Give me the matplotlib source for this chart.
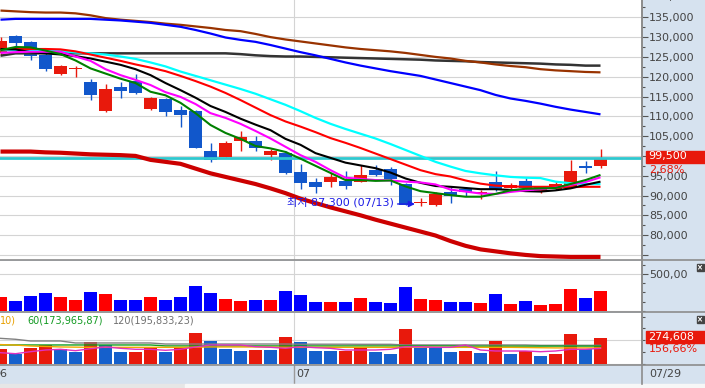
import numpy as np
import matplotlib.pyplot as plt
from matplotlib import font_manager, transforms
from matplotlib.patches import Rectangle
from matplotlib.lines import Line2D
from matplotlib.ticker import MultipleLocator, FuncFormatter, NullFormatter

# ---- price candles (one per trading day, last = 07/29) ----
opens = [126000, 130300, 128800, 125500, 120800, 122100, 118700, 111300, 117400, 118900,
         111800, 114400, 111600, 111300, 101200, 99700, 103800, 103800, 100200, 100700,
         95900, 93400, 93400, 93700, 93400, 96400, 96700, 92900, 88200, 87600,
         90900, 91600, 90700, 93400, 91900, 93700, 90900, 91600, 92400, 97500, 97500]
highs = [130000, 130500, 128900, 126000, 123000, 122800, 119400, 118200, 118700, 120700,
         114900, 114600, 112600, 111500, 103300, 103800, 106300, 105000, 101700, 101200,
         98000, 94400, 95700, 96200, 97700, 97700, 97200, 93100, 89400, 90900,
         92100, 92200, 91300, 96200, 93200, 94400, 92300, 93700, 99000, 98700, 101700]
lows = [125500, 127200, 124200, 121500, 120400, 119900, 114100, 111200, 114600, 115600,
        111700, 110100, 107300, 101900, 98500, 99600, 101200, 101200, 99000, 95500,
        91600, 90600, 92200, 91600, 93300, 95000, 92700, 87500, 87300, 87400,
        88100, 89900, 89000, 91100, 91700, 91700, 90700, 91400, 92300, 95700, 97000]
closes = [129000, 128500, 125200, 121900, 122700, 122150, 115400, 116900, 116400, 115900,
          114600, 111100, 110300, 102000, 99000, 103300, 104800, 102000, 101200, 95700,
          93200, 92200, 94700, 92400, 95200, 95200, 94200, 87600, 88300, 90400,
          89900, 90900, 91000, 91600, 92700, 91900, 92200, 92900, 96200, 96900, 99500]

# ---- moving-average style lines on the price panel ----
ma_green = [126700, 127500, 127400, 126600, 125700, 124100, 122100, 120800, 119500, 118400,
            116200, 115300, 113400, 110800, 107800, 105800, 104300, 102500, 101900, 101000,
            99300, 97500, 95700, 93900, 93900, 93700, 93800, 92300, 91100, 90600,
            90100, 89700, 89700, 90400, 91300, 91700, 91800, 91900, 92900, 93900, 95200]
ma_magenta = [126000, 126200, 126300, 126300, 126300, 125100, 124000, 121900, 120400, 119200,
              117900, 116100, 114900, 113100, 110800, 109600, 108100, 106300, 104400, 102300,
              100200, 98500, 96400, 94500, 94200, 93900, 93800, 93500, 93300, 92800,
              91500, 91000, 90500, 90400, 90900, 91300, 91600, 92000, 92700, 93400, 94600]
ma_black = [127000, 126900, 126200, 125900, 125600, 125200, 124600, 123800, 123000, 121900,
            120400, 118400, 116600, 114700, 112600, 111100, 109400, 107900, 106500, 104300,
            102800, 100700, 99500, 98300, 97600, 96900, 95800, 94300, 93200, 92400,
            92200, 91900, 91600, 91600, 91400, 91100, 91000, 91300, 91800, 92700, 93500]
ma_red = [126900, 127000, 127000, 127000, 126900, 126400, 125600, 124800, 124000, 123100,
          122300, 121400, 120200, 118900, 117500, 115900, 114100, 112200, 110300, 108700,
          107400, 106000, 104500, 103300, 102000, 100600, 99200, 97800, 96400, 95400,
          94800, 93800, 93000, 92500, 92300, 92200, 92200, 92200, 92100, 92200, 92200]
ma_cyan = [126700, 126700, 126700, 126600, 126500, 126100, 125900, 125600, 125100, 124500,
           123600, 122600, 121300, 120200, 119100, 118000, 116900, 115700, 114300, 112900,
           111300, 109600, 108100, 106800, 105600, 104400, 103000, 101500, 100000, 98500,
           97300, 96200, 95600, 95100, 94700, 94500, 94400, 93500, 93100, 92900, 92900]
ma_blue = [134400, 134600, 134600, 134600, 134600, 134600, 134600, 134400, 134200, 133900,
           133600, 133100, 132600, 131800, 130900, 129900, 129300, 128800, 128000, 127100,
           126200, 125400, 124500, 123600, 122800, 122100, 121400, 120800, 120200, 119300,
           118400, 117500, 116600, 115400, 114500, 113900, 113200, 112400, 111700, 111100, 110500]
ma_brown = [136700, 136500, 136300, 136200, 136200, 136000, 135500, 134800, 134400, 134100,
            133800, 133400, 133100, 132700, 132300, 131800, 131500, 130800, 130000, 129400,
            128900, 128400, 127900, 127400, 127000, 126700, 126400, 126000, 125500, 125000,
            124600, 124000, 123600, 123100, 122700, 122400, 121900, 121600, 121400, 121200, 121100]
ma_grey = [125300, 125900, 125900, 125900, 125900, 125900, 125900, 125900, 125900, 125900,
           125900, 125900, 125900, 125900, 125900, 125900, 125700, 125400, 125200, 125100,
           125100, 125000, 124900, 124800, 124700, 124600, 124500, 124400, 124300, 124100,
           124000, 123900, 123700, 123600, 123500, 123400, 123300, 123100, 123000, 122800, 122800]
band_low = [101100, 101100, 101100, 100900, 100800, 100600, 100400, 100300, 100200, 100000,
            99000, 98500, 98000, 96800, 95600, 94700, 93800, 92900, 91800, 90600,
            89200, 88100, 87000, 86000, 85000, 83900, 82900, 81900, 80900, 79900,
            78500, 77300, 76400, 75900, 75400, 75000, 74700, 74600, 74500, 74500, 74500]

# ---- volume panel ----
volume = [186600, 132000, 200000, 241000, 186600, 146000, 255000, 227500, 146000, 146000,
          186600, 146000, 186600, 336500, 241000, 159400, 132000, 146000, 146000, 268400,
          213900, 118500, 118500, 118500, 173000, 118500, 104900, 322900, 159400, 146000,
          118500, 118500, 104900, 227500, 91300, 132000, 77700, 91300, 295600, 173000, 268400]

# ---- lower indicator panel ----
amount = [158400, 105600, 169000, 200700, 158400, 126700, 232400, 200700, 126700, 126700,
          169000, 126700, 169000, 327400, 242900, 158400, 137300, 147900, 147900, 285200,
          232400, 137300, 137300, 137300, 169000, 126700, 105600, 369700, 169000, 169000,
          126700, 137300, 116200, 242900, 105600, 137300, 84500, 105600, 316900, 158400, 274608]
amount_up = [1, 0, 1, 1, 0, 0, 1, 0, 0, 1, 1, 0, 1, 1, 0, 0, 0, 1, 0, 1,
             0, 0, 0, 1, 1, 0, 0, 1, 0, 0, 0, 1, 0, 1, 0, 1, 0, 1, 1, 0, 1]
amt_magenta = [119400, 108800, 129900, 147900, 155300, 140500, 161600, 179600, 165800, 155300,
               155300, 144700, 155300, 179600, 200700, 200700, 200700, 182700, 176400, 165800,
               182700, 172200, 165800, 147900, 147900, 147900, 155300, 182000, 182000, 176000,
               176000, 200700, 147900, 137300, 137300, 137300, 129900, 137300, 155300, 155300, 165000]
amt_orange = [205000, 200000, 190000, 185000, 180000, 178000, 176000, 176000, 176000, 176000,
              176000, 176000, 176000, 178000, 180000, 180000, 180000, 180000, 178000, 176000,
              176000, 176000, 176000, 176000, 176000, 176000, 176000, 178000, 178000, 176000,
              176000, 176000, 176000, 176000, 176000, 174000, 172000, 170000, 170000, 170000, 170000]
amt_green = [201000] * 11 + [191000] * 20 + [189000] * 10
amt_grey = [271000, 261000, 243000, 243000, 243000, 222000, 222000, 222000, 222000, 222000,
            222000, 211000, 211000, 211000, 211000, 211000, 211000, 211000, 211000, 211000,
            209000, 209000, 209000, 209000, 208000, 208000, 208000, 201000, 201000, 201000,
            201000, 201000, 201000, 201000, 201000, 201000, 197000, 197000, 197000, 197000, 197000]

month_starts = [0, 20]
month_labels = ['06', '07']
last_date = '07/29'
low_date = '07/13'
change_pct = '2,68%'
amount_pct = '156,66%'
legend_parts = [('10)', '#e8a000', 0), ('60(173,965,87)', '#129a22', 27),
                ('120(195,833,23)', '#707070', 113)]

# ---- fonts ----
installed = {f.name for f in font_manager.fontManager.ttflist}
if 'Liberation Sans Narrow' in installed:
    NARROW, FS = 'Liberation Sans Narrow', 10
else:
    NARROW, FS = 'DejaVu Sans', 8
plt.rcParams['font.family'] = [NARROW, 'Noto Sans CJK KR', 'DejaVu Sans']

W, H = 705, 388
AXR = 642            # pixel x of the price axis line
STEP = 15.0          # pixels per candle
BODY = 13 / STEP
RED, BLUE = '#e8190c', '#1157cb'
PANEL_BG = '#d6e2ef'
GRID = '#d4d4d4'
TXT = '#444444'

idx = np.arange(len(closes))
o, h, l, c = map(np.array, (opens, highs, lows, closes))
up = c >= o
xlim = (-0.5 / STEP, (AXR - 0.5) / STEP)

fig = plt.figure(figsize=(W / 100, H / 100), dpi=100, facecolor=PANEL_BG)


def panel(top, bottom):
    ax = fig.add_axes([0, 1 - bottom / H, AXR / W, (bottom - top) / H])
    ax.set_facecolor('white')
    for s in ('top', 'left', 'bottom'):
        ax.spines[s].set_visible(False)
    ax.spines['right'].set_color('#8c8c8c')
    ax.spines['right'].set_linewidth(1.2)
    ax.set_xlim(*xlim)
    ax.set_xticks([])
    ax.yaxis.tick_right()
    ax.tick_params(axis='y', which='major', direction='out', length=4.3, width=0.8,
                   colors='#555555', labelcolor=TXT, labelsize=FS, pad=0.7)
    ax.tick_params(axis='y', which='minor', direction='out', length=2.2, width=0.8,
                   colors='#555555')
    return ax


bound = idx[month_starts[1]] - BODY / 2

# ================= price panel =================
main = panel(0, 259.5)
main.set_ylim(73844, 139368)
main.set_yticks(np.arange(75000, 140000, 5000))
main.yaxis.set_major_formatter(FuncFormatter(lambda v, p: '' if v < 80000 else f'{int(v):,}'))
main.yaxis.set_minor_locator(MultipleLocator(2500))
for p in np.arange(75000, 140001, 5000):
    main.axhline(p, color=GRID, lw=0.8, zorder=0)
main.axvline(bound, color=GRID, lw=0.8, zorder=0)

ccol = np.where(up, RED, BLUE)
main.vlines(idx, l, h, colors=ccol, lw=1.0, zorder=2)
diff = np.abs(c - o)
bh = np.maximum(diff, 260)
bb = np.where(diff < 260, (o + c) / 2 - 130, np.minimum(o, c))
main.bar(idx, bh, bottom=bb, width=BODY, color=ccol, lw=0, zorder=3)

main.axhline(closes[-1], color='#2ec8cf', lw=2.0, zorder=3.5)
main.plot(idx, band_low, color='#cc0000', lw=3.0, zorder=4, solid_capstyle='butt')
for vals, col, lw in [(ma_grey, '#333333', 1.8), (ma_brown, '#993300', 1.6),
                      (ma_blue, '#0000ff', 1.6), (ma_cyan, '#00ffff', 1.6),
                      (ma_red, '#ff0000', 1.5), (ma_black, '#000000', 1.5),
                      (ma_magenta, '#ff00ff', 1.5), (ma_green, '#008000', 1.5)]:
    main.plot(idx, vals, color=col, lw=lw, zorder=4, solid_capstyle='butt')

k_low = int(np.argmin(l))
low = int(l[k_low])
ann_blue = '#1c1ce6'
main.annotate(f'최저 {low:,} ({low_date})', xy=(k_low, low), xytext=(-19.1, 2.7),
              textcoords='offset points', ha='right', va='center', color=ann_blue,
              fontsize=FS, zorder=6)
tip = transforms.offset_copy(main.transData, fig=fig, x=-4.0, y=1.6, units='points')
main.annotate('', xy=(k_low, low), xycoords=tip, xytext=(-12.5, 0),
              textcoords='offset points',
              arrowprops=dict(arrowstyle='-|>', color=ann_blue, lw=1.0,
                              mutation_scale=9, shrinkA=0, shrinkB=0), zorder=6)

# ================= volume panel =================
vol = panel(260.5, 311.5)
vol.set_ylim(-10900, 683900)
vol.set_yticks([500000])
vol.yaxis.set_major_formatter(FuncFormatter(lambda v, p: '500,00'))
vol.yaxis.set_minor_locator(MultipleLocator(125000))
vol.yaxis.set_minor_formatter(NullFormatter())
vol.axhline(500000, color=GRID, lw=0.8, zorder=0)
vol.axhline(0, color=GRID, lw=0.8, zorder=0)
vol.axvline(bound, color=GRID, lw=0.8, zorder=0)
vol.bar(idx, volume, width=BODY, color=np.where(up, '#ff0000', '#0000ff'), lw=0, zorder=2)

# ================= indicator panel =================
ind = panel(312.5, 365)
ind.set_ylim(-10562, 543900)
ind.set_yticks([])
ind.yaxis.set_minor_locator(MultipleLocator(125000))
ind.yaxis.set_minor_formatter(NullFormatter())
ind.axhline(250000, color=GRID, lw=0.8, zorder=0)
ind.axhline(0, color=GRID, lw=0.8, zorder=0)
ind.axvline(bound, color=GRID, lw=0.8, zorder=0)
ind.bar(idx, amount, width=BODY, color=np.where(np.array(amount_up) == 1, RED, '#1560cc'),
        lw=0, zorder=2)
for vals, col in [(amt_grey, '#808080'), (amt_green, '#10a020'),
                  (amt_orange, '#f0a800'), (amt_magenta, '#e030c0')]:
    ind.plot(idx, vals, color=col, lw=1.0, zorder=3)
for txt, col, x in legend_parts:
    fig.text(x / W, 1 - 320.7 / H, txt, color=col, fontsize=FS * 0.88, va='center', ha='left')

# ================= date strip =================
date = fig.add_axes([0, 1 - 384 / H, AXR / W, 19 / H])
date.set_axis_off()
date.set_xlim(*xlim)
date.set_ylim(0, 1)
date.axvline(bound, color='#9a9a9a', lw=1.0)
for n, (k, lab) in enumerate(zip(month_starts, month_labels)):
    pad = 2 if n else -0.5          # the first label sits cut at the left edge
    date.text(idx[k] - BODY / 2 + pad / STEP, 0.55, lab, color=TXT, fontsize=FS,
              ha='left', va='center')
fig.text(649 / W, 1 - 373.5 / H, last_date, color=TXT, fontsize=FS, va='center')

# ---- frame lines, toolbar strip ----
for y in (259.5, 311.8, 365.2):
    fig.add_artist(Line2D([0, 1], [1 - y / H] * 2, color='#8c8c8c', lw=1.2,
                          transform=fig.transFigure))
fig.add_artist(Line2D([AXR / W] * 2, [1 - 384 / H, 1], color='#8c8c8c', lw=1.2,
                      transform=fig.transFigure))
fig.add_artist(Rectangle((0, 0), 185 / W, 4 / H, color='#e6e6e6', transform=fig.transFigure))
fig.add_artist(Rectangle((185 / W, 0), 1 - 185 / W, 4 / H, color='#f7f7f7',
                         transform=fig.transFigure))

# ---- right-side value boxes ----
def value_box(y_top, y_bot, text):
    fig.add_artist(Rectangle((646 / W, 1 - y_bot / H), (W - 646) / W, (y_bot - y_top) / H,
                             color=RED, transform=fig.transFigure, zorder=5))
    fig.text(648.5 / W, 1 - (y_top + y_bot) / 2 / H, text, color='white', fontsize=FS,
             va='center', ha='left', zorder=6)


value_box(150.5, 162.5, f'{closes[-1]:,}')
fig.text(649 / W, 1 - 169.8 / H, change_pct, color=RED, fontsize=FS, va='center', zorder=6)
value_box(331, 343.3, f'{amount[-1]:,}')
fig.text(649 / W, 1 - 349 / H, amount_pct, color=RED, fontsize=FS, va='center', zorder=6)
fig.text(649 / W, 1 + 3.0 / H, '140,000', color=TXT, fontsize=FS, va='center')

# small close buttons on the sub panels
for yb in (264, 316):
    fig.add_artist(Rectangle((696.5 / W, 1 - (yb + 6.5) / H), 7 / W, 6.5 / H,
                             color='#444444', transform=fig.transFigure, zorder=5))
    for dy in ((1.5, 5), (5, 1.5)):
        fig.add_artist(Line2D([698.5 / W, 701.5 / W], [1 - (yb + dy[0]) / H, 1 - (yb + dy[1]) / H],
                              color='white', lw=0.7, transform=fig.transFigure, zorder=6))

fig.savefig('out.png', dpi=100, facecolor=fig.get_facecolor())
